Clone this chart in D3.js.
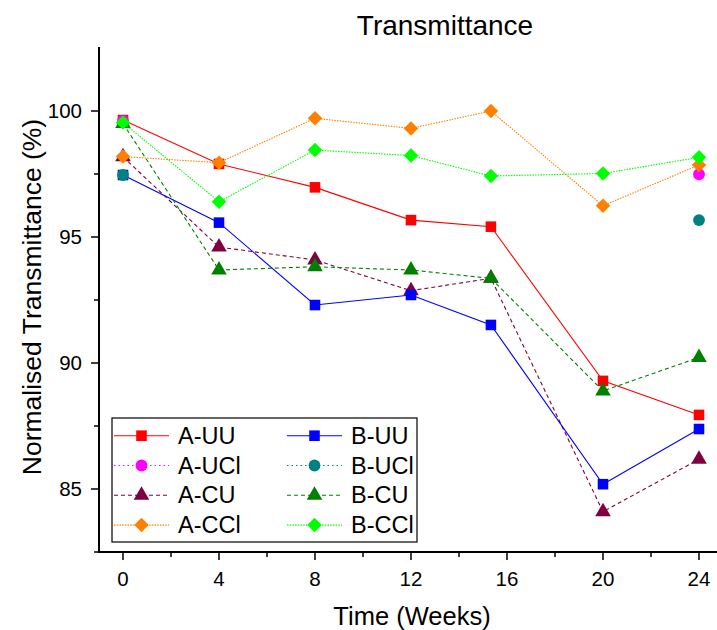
<!DOCTYPE html>
<html>
<head>
<meta charset="utf-8">
<script src="https://cdn.jsdelivr.net/npm/d3@7"></script>
<style>
html,body{margin:0;padding:0;background:#fff;}
svg{display:block;font-family:Arial,"Liberation Sans",sans-serif;}
</style>
</head>
<body>
<svg id="chart" width="717" height="630"></svg>
<script>
// ---- data ----
const weeks = [0, 4, 8, 12, 15.33, 20, 24];
const xTicks = [0, 4, 8, 12, 16, 20, 24];
const yTicks = [85, 90, 95, 100];
const A_UU  = [99.64, 97.90, 96.97, 95.67, 95.41, 89.29, 87.94];
const A_UCl = [99.62, null, null, null, null, null, 97.49];
const A_CU  = [98.18, 94.60, 94.09, 92.87, 93.36, 84.10, 86.18];
const A_CCl = [98.19, 97.95, 99.71, 99.31, 100.00, 96.24, 97.86];
const B_UU  = [97.46, 95.57, 92.30, 92.70, 91.51, 85.19, 87.38];
const B_UCl = [97.46, null, null, null, null, null, 95.67];
const B_CU  = [99.50, 93.69, 93.82, 93.69, 93.36, 88.89, 90.22];
const B_CCl = [99.54, 96.40, 98.45, 98.23, 97.42, 97.52, 98.16];
const seriesNames = ["A-UU","A-UCl","A-CU","A-CCl","B-UU","B-UCl","B-CU","B-CCl"];
const seriesValues = [A_UU, A_UCl, A_CU, A_CCl, B_UU, B_UCl, B_CU, B_CCl];

// ---- styles ----
const styles = [
  {color:"#ff0000", dash:null,    sym:"square"},
  {color:"#ff00ff", dash:"1.5,3", sym:"circle"},
  {color:"#800040", dash:"4,3",   sym:"triangle"},
  {color:"#ff8000", dash:"1.5,1.2", sym:"diamond"},
  {color:"#0000ff", dash:null,    sym:"square"},
  {color:"#008080", dash:"1.5,3", sym:"circle"},
  {color:"#008000", dash:"4,3",   sym:"triangle"},
  {color:"#00ff00", dash:"1.5,1.2", sym:"diamond"}
];

const svg = d3.select("#chart");
const x = d3.scaleLinear().domain([-1, 25]).range([99, 723]);
const y = d3.scaleLinear().domain([82.5, 102.5]).range([552, 48]);

// axes
const gx = svg.append("g").attr("transform","translate(0,552)");
gx.append("line").attr("x1",98).attr("x2",717).attr("stroke","#000").attr("stroke-width",2);
gx.selectAll(".maj").data(xTicks).enter().append("line")
  .attr("x1",d=>x(d)).attr("x2",d=>x(d)).attr("y1",0).attr("y2",8)
  .attr("stroke","#000").attr("stroke-width",1.5);
gx.selectAll(".min").data(d3.range(2,26,4)).enter().append("line")
  .attr("x1",d=>x(d)).attr("x2",d=>x(d)).attr("y1",0).attr("y2",5)
  .attr("stroke","#000").attr("stroke-width",1.5);
gx.selectAll(".lbl").data(xTicks).enter().append("text")
  .attr("x",d=>x(d)).attr("y",34).attr("text-anchor","middle")
  .attr("font-size",20.5).text(d=>d);

const gy = svg.append("g").attr("transform","translate(99,0)");
gy.append("line").attr("y1",47).attr("y2",553).attr("stroke","#000").attr("stroke-width",2);
gy.selectAll(".maj").data(yTicks).enter().append("line")
  .attr("y1",d=>y(d)).attr("y2",d=>y(d)).attr("x1",0).attr("x2",-8)
  .attr("stroke","#000").attr("stroke-width",1.5);
gy.selectAll(".min").data([82.5,87.5,92.5,97.5]).enter().append("line")
  .attr("y1",d=>y(d)).attr("y2",d=>y(d)).attr("x1",0).attr("x2",-5)
  .attr("stroke","#000").attr("stroke-width",1.5);
gy.selectAll(".lbl").data(yTicks).enter().append("text")
  .attr("x",-17).attr("y",d=>y(d)+7).attr("text-anchor","end")
  .attr("font-size",20.5).text(d=>d);

// titles
svg.append("text").attr("x",445).attr("y",35).attr("text-anchor","middle")
  .attr("font-size",28).text("Transmittance");
svg.append("text").attr("x",412).attr("y",625).attr("text-anchor","middle")
  .attr("font-size",25.5).text("Time (Weeks)");
svg.append("text").attr("transform","translate(41,297) rotate(-90)")
  .attr("text-anchor","middle").attr("font-size",26.5).text("Normalised Transmittance (%)");

function symPath(kind){
  if(kind==="square") return d3.symbol(d3.symbolSquare, 112)();
  if(kind==="circle") return d3.symbol(d3.symbolCircle, 110)();
  if(kind==="triangle") return d3.symbol(d3.symbolTriangle, 105)();
  return d3.symbol(d3.symbolSquare, 105)();
}
function symTransform(kind, px, py){
  return `translate(${px},${py})` + (kind==="diamond" ? " rotate(45)" : "");
}

const line = d3.line().defined(d=>d[1]!==null).x(d=>x(d[0])).y(d=>y(d[1]));

// series
seriesValues.forEach((vals,i)=>{
  const st = styles[i];
  const pts = weeks.map((w,j)=>[w, vals[j]]);
  const g = svg.append("g");
  g.append("path").attr("d", line(pts)).attr("fill","none")
    .attr("stroke", st.color).attr("stroke-width",1.1)
    .attr("stroke-dasharray", st.dash);
  g.selectAll("path.m").data(pts.filter(p=>p[1]!==null)).enter().append("path")
    .attr("class","m")
    .attr("d", symPath(st.sym))
    .attr("transform", p=>symTransform(st.sym, x(p[0]), y(p[1])))
    .attr("fill", st.color);
});

// legend
const lg = svg.append("g");
lg.append("rect").attr("x",112).attr("y",418).attr("width",305).attr("height",124)
  .attr("fill","#fff").attr("stroke","#000").attr("stroke-width",1.2);
seriesNames.forEach((name,i)=>{
  const st = styles[i];
  const col = Math.floor(i/4), row = i%4;
  const x0 = col===0 ? 114 : 287;
  const cy = 435.7 + row*29.8;
  lg.append("line").attr("x1",x0).attr("x2",x0+55).attr("y1",cy).attr("y2",cy)
    .attr("stroke",st.color).attr("stroke-width",1.1).attr("stroke-dasharray",st.dash);
  lg.append("path").attr("d",symPath(st.sym))
    .attr("transform",symTransform(st.sym, x0+27.5, cy)).attr("fill",st.color);
  lg.append("text").attr("x",x0+64).attr("y",cy+8).attr("font-size",23.5).text(name);
});
</script>
</body>
</html>
